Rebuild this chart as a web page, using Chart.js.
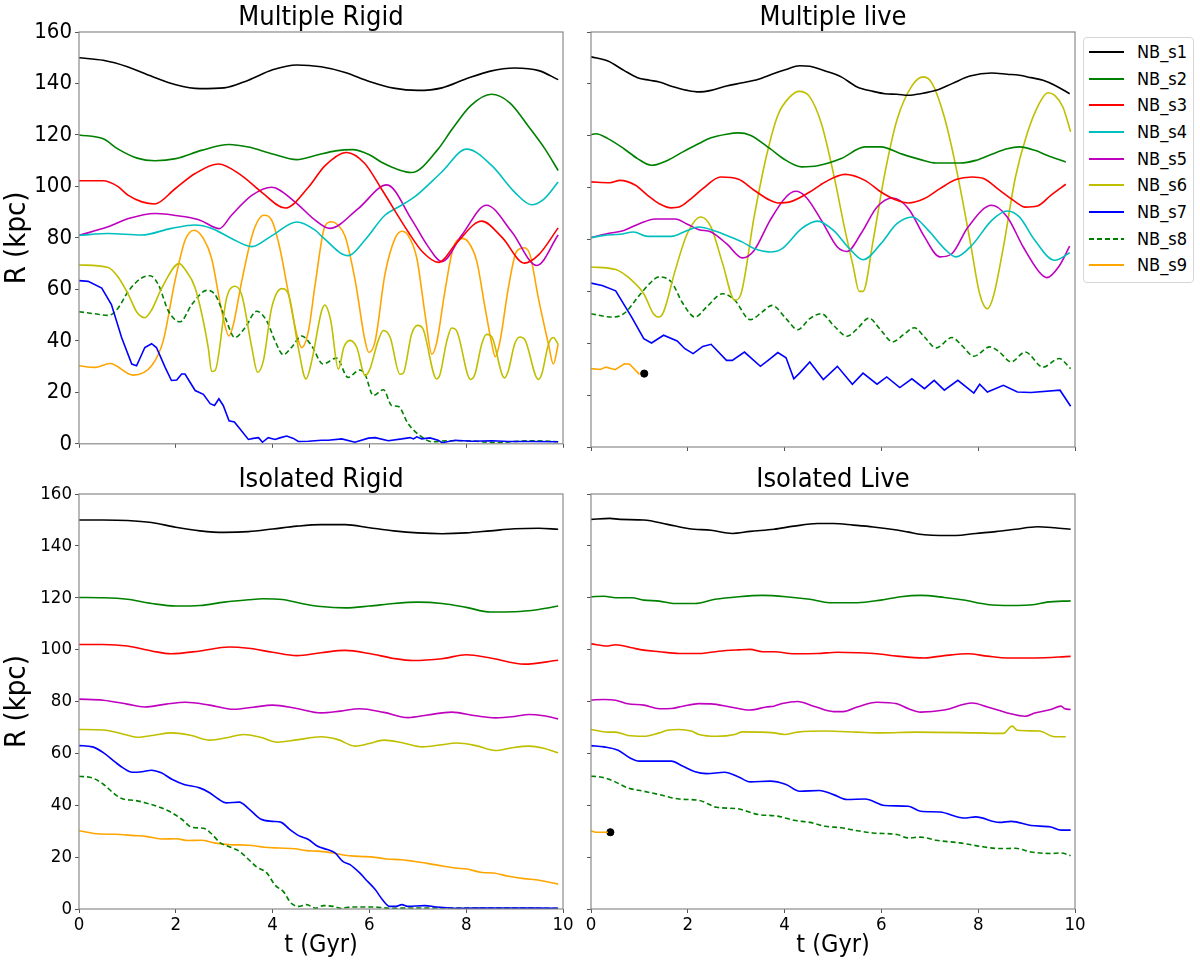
<!DOCTYPE html>
<html><head><meta charset="utf-8">
<script src="https://cdn.jsdelivr.net/npm/chart.js@4.4.1/dist/chart.umd.min.js"></script>
<style>
html,body{margin:0;padding:0;background:#fff;}
body{width:1200px;height:969px;position:relative;overflow:hidden;font-family:'DejaVu Sans Condensed','DejaVu Sans',sans-serif;}
canvas{position:absolute;}
#legend{position:absolute;left:1083px;top:37px;width:111px;height:246px;border:1px solid #d6d6d6;border-radius:4px;box-sizing:border-box;background:#fff;}
.item{position:absolute;left:0;width:110px;height:20px;}
.sw{position:absolute;left:5px;width:35px;top:9px;height:2px;}
.lb{position:absolute;left:53px;top:0;font-size:18px;line-height:20px;color:#000;white-space:nowrap;}
</style>
</head><body>
<div id="legend"></div>
<script>
// ---------- labels ----------
const seriesNames = ['NB_s1','NB_s2','NB_s3','NB_s4','NB_s5','NB_s6','NB_s7','NB_s8','NB_s9'];
const panelTitles = ['Multiple Rigid','Multiple live','Isolated Rigid','Isolated Live'];
const xTicks = [0,2,4,6,8,10];
const yTicks = [0,20,40,60,80,100,120,140,160];

// ---------- Multiple Rigid ----------
const mrS1 = [[0,150],[0.5,149],[1,146.5],[1.5,142.8],[2,139.5],[2.5,138],[3,138.3],[3.5,141.3],[4,145.3],[4.5,147.2],[5,146.5],[5.5,144.3],[6,140.8],[6.5,138.2],[7,137.3],[7.5,138.3],[8,141.8],[8.5,144.8],[9,146],[9.5,145],[9.9,141.5]];
const mrS2 = [[0,120],[0.5,118.5],[0.81,114.5],[1.2,111],[1.57,110],[2,110.8],[2.53,114],[3.1,116.3],[3.5,115.3],[4,112.6],[4.5,110.4],[4.88,112],[5.3,113.8],[5.65,114.3],[6,112.3],[6.25,109.4],[6.6,106.5],[6.87,105.4],[7.42,114.5],[7.7,122],[8.1,131.5],[8.52,135.8],[8.9,132.5],[9.3,123],[9.63,114.5],[9.9,106.2]];
const mrS3 = [[0,102.2],[0.5,102.2],[0.8,100],[1.02,96.5],[1.3,94],[1.57,93.2],[1.98,99],[2.4,105],[2.88,108.7],[3.36,104.2],[3.77,97.8],[4.26,91.6],[4.74,99.7],[5.08,108],[5.53,113.2],[5.9,109],[6.25,99],[6.8,82.4],[7.1,74.5],[7.43,70.5],[7.8,78],[8.32,86.5],[8.75,80],[9.2,70.2],[9.5,73.5],[9.9,83.9]];
const mrS4 = [[0,81],[0.61,81.7],[1.29,81.1],[1.91,83.7],[2.4,85],[2.74,83.7],[3.15,79.8],[3.57,76.6],[3.98,80.8],[4.5,86.2],[4.88,83],[5.05,80],[5.56,73.1],[5.9,79],[6.32,88.8],[6.6,92],[6.94,96],[7.49,105.5],[8.01,114.5],[8.53,108.1],[9.0,97.8],[9.35,92.9],[9.6,95],[9.9,101.7]];
const mrS5 = [[0,81],[0.6,84.3],[1.02,87.5],[1.57,89.5],[2.19,88.2],[2.5,86.9],[2.9,83.6],[3.15,88.8],[3.57,96.5],[3.98,99.7],[4.46,94],[4.88,86.9],[5.18,83.7],[5.77,91.4],[6.36,100.6],[6.88,86.9],[7.2,77],[7.5,70.8],[7.91,81.1],[8.42,92.7],[8.94,82.4],[9.46,69.3],[9.9,81.1]];
const mrS6 = [[0,69.5],[0.6,68.5],[0.8,65],[1.02,58],[1.2,51],[1.36,49],[1.5,52],[1.71,60.5],[2.07,70],[2.2,67.5],[2.4,60.5],[2.67,37.4],[2.74,28.1],[2.81,28.4],[3.05,56.7],[3.21,61.2],[3.36,58],[3.57,37.4],[3.69,27.8],[3.81,32.3],[3.98,52.8],[4.19,60.3],[4.33,58],[4.53,37.4],[4.69,25.2],[4.81,32.3],[5.01,51.5],[5.08,53.9],[5.2,48],[5.36,29],[5.47,37.4],[5.6,40.2],[5.74,37.4],[5.91,26.5],[6.01,29],[6.18,40],[6.29,44],[6.43,41.3],[6.63,27],[6.7,27.4],[6.87,42.5],[7.0,46],[7.11,44.5],[7.39,25.2],[7.46,27],[7.6,40],[7.7,45],[7.8,44],[8.09,25],[8.18,27],[8.32,38.7],[8.42,42.5],[8.53,41.5],[8.79,25.6],[8.87,28.4],[9.0,38.7],[9.11,41.5],[9.22,40.2],[9.49,25],[9.56,27],[9.7,38.7],[9.8,41.3],[9.9,38.7]];
const mrS7 = [[0,63.4],[0.19,63.1],[0.47,60.5],[0.67,54.1],[0.88,41.3],[1.09,31],[1.19,30.3],[1.36,37.4],[1.5,38.9],[1.6,37.4],[1.78,29.7],[1.91,24.6],[2.02,24.8],[2.12,27.1],[2.19,27.1],[2.4,20.7],[2.57,19.2],[2.71,15.6],[2.8,14.9],[2.89,17.5],[2.98,14.9],[3.1,8.9],[3.21,8.5],[3.29,6.6],[3.5,1.7],[3.6,2.1],[3.71,2.4],[3.79,0.6],[3.91,2.4],[4.05,1.7],[4.15,2.3],[4.29,3],[4.43,2.1],[4.53,0.9],[4.74,1],[5.01,1.4],[5.15,1.4],[5.43,1.9],[5.7,0.6],[5.98,2.2],[6.12,2.4],[6.39,1.2],[6.67,1.9],[6.84,2.4],[6.91,1.9],[6.98,2.7],[7.08,1.9],[7.25,2.3],[7.42,1.4],[7.5,0.4],[7.77,1.4],[8.12,1],[8.53,1.2],[8.87,0.9],[9.35,0.9],[9.9,0.8]];
const mrS8 = [[0,51.3],[0.33,50.5],[0.61,49.9],[0.81,52.8],[1.02,59.3],[1.29,64.4],[1.47,65.3],[1.64,61.8],[1.85,51.5],[2.09,47.4],[2.33,54.1],[2.64,59.6],[2.81,58],[3.02,49],[3.22,41.3],[3.43,45.1],[3.67,51.5],[3.88,47.7],[4.05,40],[4.22,34.6],[4.39,37.4],[4.6,41.9],[4.81,38],[5.04,31],[5.32,33.3],[5.56,25.8],[5.8,28.7],[5.91,27],[6.08,18.8],[6.29,21],[6.46,14.9],[6.6,14.5],[6.8,7.8],[7.08,2.7],[7.29,0.8],[7.63,1.2],[7.97,1.2],[8.32,0.8],[8.66,0.4],[9.0,0.9],[9.35,1.2],[9.9,0.8]];
const mrS9 = [[0,30.3],[0.33,29.7],[0.64,31.2],[1.12,26.7],[1.5,30.3],[1.74,40],[1.98,63],[2.19,79],[2.38,83],[2.57,79.8],[2.74,72],[2.95,51.5],[3.1,41.9],[3.19,46.4],[3.36,63],[3.6,82.4],[3.82,88.8],[3.98,86.9],[4.15,76],[4.32,59.3],[4.5,42.5],[4.6,37.4],[4.74,43.8],[4.88,62],[5.08,84.5],[5.22,86.3],[5.35,85],[5.5,80.5],[5.71,63],[5.91,40],[5.99,35.5],[6.12,40],[6.32,65.7],[6.53,79.8],[6.67,82.6],[6.8,81],[6.98,72.1],[7.15,50.3],[7.29,34.8],[7.39,39.3],[7.56,59.3],[7.73,76],[7.9,79.8],[8.04,78.5],[8.22,70.8],[8.39,52.8],[8.53,38.7],[8.6,33.8],[8.7,40],[8.87,60.5],[9.04,74.7],[9.2,76.2],[9.32,73.4],[9.49,56.7],[9.7,38.7],[9.8,31],[9.9,38.7]];

// ---------- Multiple live ----------
const mlS1 = [[0,150.4],[0.35,148.8],[0.68,145.2],[0.96,142.4],[1.21,141.4],[1.41,140.7],[1.66,139.1],[1.99,137.5],[2.23,136.9],[2.48,137.5],[2.8,139.2],[3.13,140.4],[3.46,141.8],[3.78,144],[4.03,145.5],[4.31,147],[4.52,146.8],[4.84,145],[5.17,142.7],[5.5,138.8],[5.83,137.1],[6.07,136.2],[6.32,136],[6.56,135.6],[6.81,136.2],[7.13,137.5],[7.46,140.1],[7.83,143],[8.28,144.2],[8.6,143.7],[8.85,143.3],[9.09,142.4],[9.34,141.4],[9.58,139.5],[9.89,136.2]];
const mlS2 = [[0,120.4],[0.1,120.8],[0.35,118.9],[0.68,115],[0.96,111.2],[1.25,108.6],[1.58,110.5],[1.9,113.8],[2.23,117],[2.48,119.2],[2.8,120.6],[3.05,121.1],[3.29,120.2],[3.7,115],[4.03,110.5],[4.35,108],[4.68,108.4],[5.17,111.2],[5.66,115.7],[5.99,115.7],[6.4,113.1],[6.81,110.8],[7.13,109.5],[7.62,109.5],[7.95,110.5],[8.28,112.9],[8.6,115],[8.85,115.7],[9.17,114.4],[9.42,112.5],[9.81,109.9]];
const mlS3 = [[0,102.2],[0.39,101.9],[0.6,102.8],[0.92,100.9],[1.17,97],[1.41,93.8],[1.66,92.2],[1.82,92.5],[2.07,95.8],[2.31,99.6],[2.68,104.1],[3.05,103.2],[3.37,99],[3.7,95.1],[3.86,94.1],[4.11,94.5],[4.52,98.3],[4.84,102.2],[5.25,105.1],[5.66,102.8],[5.99,98.3],[6.32,95.1],[6.56,94.1],[6.89,95.8],[7.21,99.6],[7.54,103.1],[7.87,104.1],[8.11,103.5],[8.44,99],[8.77,94.5],[8.97,92.5],[9.22,92.9],[9.5,97],[9.81,101.3]];
const mlS4 = [[0,80.7],[0.27,81.6],[0.6,82],[0.88,82.9],[1.17,81.2],[1.66,81.2],[1.99,83.5],[2.23,84.8],[2.56,83.3],[2.88,81],[3.13,79],[3.37,76.5],[3.7,75.2],[3.95,76.5],[4.35,84.2],[4.68,87.1],[5.01,83.5],[5.34,76.5],[5.62,72.2],[5.99,78.4],[6.32,86.1],[6.64,88.7],[6.97,83.5],[7.3,76.5],[7.54,73.3],[7.87,77.8],[8.28,87.4],[8.6,91],[8.85,88.7],[9.17,79.7],[9.58,72],[9.89,74.9]];
const mlS5 = [[0,80.7],[0.35,82.3],[0.68,83.5],[1.0,86.1],[1.33,87.9],[1.74,87.9],[1.99,85.9],[2.23,83.8],[2.48,82.9],[2.8,78.4],[3.13,72.9],[3.37,75.8],[3.7,87.4],[4.03,96.4],[4.23,98.6],[4.44,96.4],[4.76,87.4],[5.09,77.1],[5.29,75.4],[5.58,82.3],[5.91,92.5],[6.23,96],[6.56,91.9],[6.89,81],[7.21,73.3],[7.46,74.6],[7.79,84.8],[8.28,93.2],[8.6,88.7],[8.93,77.1],[9.26,67.5],[9.42,65.3],[9.66,69.4],[9.89,77.4]];
const mlS6 = [[0,69.4],[0.51,68.4],[0.84,64.3],[1.09,59.1],[1.29,51.4],[1.4,50.1],[1.5,52.1],[1.74,68.1],[1.99,82.3],[2.27,88.7],[2.48,84.8],[2.72,70.7],[2.97,56.6],[3.09,58.5],[3.37,88.7],[3.62,111.8],[3.86,127.9],[4.11,135],[4.3,137.1],[4.52,135],[4.76,124.7],[5.01,105.4],[5.25,83.5],[5.42,69.4],[5.54,60],[5.62,60],[5.83,79.7],[6.07,105.4],[6.32,126],[6.64,139.5],[6.87,142.7],[7.05,140.1],[7.3,127.2],[7.54,108],[7.83,79.7],[8.03,59.1],[8.19,53.3],[8.32,58.5],[8.52,77.1],[8.77,104.1],[9.01,120.8],[9.26,132.4],[9.44,136.6],[9.58,135.6],[9.75,131.1],[9.91,121.5]];
const mlS7 = [[0,63.2],[0.23,62.3],[0.51,60.2],[0.84,50.1],[1.09,41.8],[1.25,40.1],[1.5,43.1],[1.78,40.9],[1.94,37.9],[2.11,36],[2.31,38.8],[2.48,39.6],[2.8,33.4],[2.92,33.4],[3.17,36.6],[3.5,31.1],[3.66,33.4],[3.86,36.4],[4.03,34.4],[4.19,26.3],[4.31,28.5],[4.52,32.8],[4.8,26],[5.09,31.1],[5.4,24.2],[5.62,28.5],[5.91,24.2],[6.11,27],[6.38,22.9],[6.63,26.3],[6.89,22.5],[7.09,25.7],[7.3,21.9],[7.58,25.7],[7.91,20.8],[8.03,24.2],[8.19,21.2],[8.52,23.8],[8.81,21.2],[9.09,21],[9.69,21.9],[9.91,15.7]];
const mlS8 = [[0,51.4],[0.43,50.1],[0.68,51.4],[1.0,58.5],[1.21,63],[1.41,65.6],[1.66,63.6],[1.9,55.3],[2.15,50.1],[2.39,54],[2.72,59.1],[2.97,56.6],[3.29,49.1],[3.54,52.1],[3.74,54.6],[4.03,49.5],[4.27,45.2],[4.52,49.5],[4.76,51.4],[5.01,46.9],[5.29,42.7],[5.5,45.6],[5.74,49.7],[5.99,45],[6.23,40.5],[6.48,43.7],[6.68,46],[6.89,42.4],[7.13,38.2],[7.46,42.2],[7.66,39.2],[7.91,35],[8.24,38.6],[8.44,36.6],[8.68,32.8],[8.97,36.6],[9.34,30.8],[9.67,34.1],[9.91,30.2]];
const mlS9 = [[0,30.2],[0.19,29.9],[0.31,30.8],[0.5,29.8],[0.69,32.1],[0.8,31.9],[1.0,28]];
const mlDot = [[1.1,28.3]];

// ---------- Isolated Rigid ----------
const irS1 = [[0,150],[0.5,150],[1,149.8],[1.5,149],[2,147.2],[2.5,145.8],[3,145.2],[3.5,145.5],[4,146.5],[4.5,147.6],[5,148.2],[5.5,148.2],[6,147],[6.5,145.8],[7,145],[7.5,144.7],[8,145],[8.5,145.8],[9,146.6],[9.5,146.8],[9.9,146.4]];
const irS2 = [[0,120.1],[0.5,120],[1,119.4],[1.5,117.8],[2,116.8],[2.5,117],[3,118.3],[3.5,119.2],[3.8,119.6],[4.2,119.3],[4.6,117.8],[5,116.6],[5.5,116.1],[6,116.8],[6.5,117.8],[7,118.3],[7.5,117.8],[8,116.3],[8.5,114.5],[9,114.6],[9.5,115.5],[9.9,116.8]];
const irS3 = [[0,102],[0.5,102],[1,101.4],[1.5,99.5],[1.9,98.4],[2.5,99.5],[3.1,101],[3.5,100.5],[4,99],[4.5,97.7],[5,98.8],[5.5,99.7],[6,98.5],[6.5,96.6],[6.9,95.8],[7.5,96.5],[8,98],[8.5,96.8],[9.2,94.4],[9.9,95.9]];
const irS5 = [[0,80.9],[0.5,80.5],[1,79],[1.35,77.9],[1.8,79],[2.2,79.7],[2.7,78.6],[3.2,77],[3.6,77.8],[4,78.6],[4.5,77.3],[5,75.6],[5.4,76.3],[5.8,77.2],[6.3,75.8],[6.8,73.8],[7.2,74.8],[7.7,75.9],[8.2,74.5],[8.6,73.7],[9,74.2],[9.3,75],[9.6,74.5],[9.9,73.3]];
const irS6 = [[0,69.2],[0.5,69],[0.9,67.5],[1.2,66.2],[1.55,67],[1.9,67.9],[2.3,67],[2.7,65.1],[3.05,66],[3.4,67.3],[3.75,66.2],[4.1,64.3],[4.5,65.2],[5,66.4],[5.35,65.3],[5.7,62.8],[6,63.8],[6.3,65.1],[6.7,64],[7.1,62.5],[7.45,63.2],[7.8,64],[8.2,63],[8.6,61.1],[8.95,62.2],[9.3,62.8],[9.6,62],[9.9,60.2]];
const irS7 = [[0,63],[0.28,62.5],[0.51,60.2],[0.75,56.6],[0.91,54.4],[1.1,52.7],[1.3,52.9],[1.5,53.5],[1.7,52.5],[1.93,49.9],[2.17,48],[2.49,46.7],[2.68,45],[2.88,42.4],[3.04,40.9],[3.31,41.2],[3.51,38.6],[3.75,34.7],[3.99,33.8],[4.18,33.4],[4.34,30.9],[4.54,28.3],[4.74,26.8],[4.93,24.2],[5.13,22.9],[5.29,21.6],[5.45,18.4],[5.6,17.1],[5.8,13.9],[5.96,10.7],[6.12,7.5],[6.27,3.6],[6.42,1],[6.55,1],[6.67,1.7],[6.79,1],[7.14,1.3],[7.38,0.8],[7.85,0.3],[8.64,0.4],[9.9,0.3]];
const irS8 = [[0,51.2],[0.28,50.5],[0.51,48],[0.75,44.1],[0.91,42.4],[1.14,41.9],[1.38,40.9],[1.7,39],[1.93,37],[2.13,34.5],[2.33,31.5],[2.57,31.1],[2.72,29.3],[2.92,25.5],[3.12,23.9],[3.31,22.3],[3.51,19],[3.67,16.2],[3.87,14.1],[4.06,9],[4.22,6.8],[4.38,2.3],[4.54,1],[4.7,1.7],[4.89,0.3],[5.05,1.3],[5.25,1],[5.41,0.3],[5.64,0.8],[6.04,0.8],[6.43,0.3],[7.06,0.4],[9.9,0.3]];
const irS9 = [[0,30.2],[0.43,28.9],[0.75,28.8],[1.14,28.3],[1.38,28],[1.7,27],[2.01,27.1],[2.25,26.4],[2.53,26.5],[2.8,25.5],[3.12,24.8],[3.51,24.6],[3.83,23.8],[4.14,23.5],[4.46,23.2],[4.7,22.5],[4.93,22.3],[5.25,21.6],[5.49,20.7],[5.8,20.3],[6.12,19.9],[6.35,19.3],[6.67,19],[6.91,18.4],[7.22,17.5],[7.54,16.5],[7.77,15.8],[8.01,15.4],[8.33,14.1],[8.56,13.9],[8.88,12.6],[9.19,11.7],[9.51,11.1],[9.9,9.6]];

// ---------- Isolated Live ----------
const ilS1 = [[0,150.2],[0.39,150.6],[0.6,150.2],[1.09,150],[1.58,148.3],[2.03,146.6],[2.48,146],[2.92,144.8],[3.29,145.6],[3.78,146.4],[4.19,147.6],[4.68,148.6],[5.01,148.6],[5.42,148],[5.83,147.3],[6.32,146.1],[6.56,145.3],[6.89,144.3],[7.21,144],[7.54,144],[7.95,144.8],[8.36,145.5],[8.77,146.4],[9.22,147.4],[9.58,147],[9.91,146.4]];
const ilS2 = [[0,120.4],[0.27,120.6],[0.51,120],[0.84,120],[1.09,119.1],[1.41,118.7],[1.74,117.8],[2.15,117.8],[2.56,119.4],[3.05,120.4],[3.54,120.9],[4.03,120.4],[4.52,119.4],[4.93,118.1],[5.5,118.1],[5.99,119.1],[6.4,120.4],[6.81,120.9],[7.3,120.1],[7.7,119.1],[8.19,117.4],[8.68,117],[9.17,117.4],[9.42,118.3],[9.91,118.8]];
const ilS3 = [[0,102.2],[0.35,101.4],[0.51,101.9],[0.84,100.7],[1.09,99.8],[1.41,99.2],[1.82,98.5],[2.23,98.5],[2.64,99.4],[3.05,99.9],[3.29,100.1],[3.54,99.2],[3.78,99.2],[4.19,98.4],[4.68,98.5],[5.09,99],[5.5,98.8],[5.91,98.4],[6.32,97.5],[6.89,96.8],[7.3,97.7],[7.79,98.4],[8.19,97.5],[8.6,96.8],[9.17,96.8],[9.91,97.4]];
const ilS5 = [[0,80.6],[0.27,80.8],[0.51,80.5],[0.76,79.1],[1.09,78.6],[1.41,77.2],[1.66,77.3],[1.9,78.2],[2.23,79.2],[2.48,79.1],[2.88,77.9],[3.29,76.7],[3.62,77.9],[3.78,78.2],[3.95,79.2],[4.27,80],[4.6,78.2],[5.01,76.1],[5.21,76.1],[5.5,77.9],[5.91,79.7],[6.32,79.1],[6.56,77.2],[6.81,75.9],[7.3,76.7],[7.87,79.4],[8.19,77.9],[8.6,75.6],[8.97,74.3],[9.17,75.6],[9.5,76.9],[9.71,78.2],[9.79,77.2],[9.91,76.9]];
const ilS6 = [[0,69.2],[0.35,68.2],[0.51,68.2],[0.76,66.9],[1.09,66.6],[1.41,67.9],[1.58,68.9],[1.82,69.2],[2.07,68.6],[2.23,67.3],[2.6,66.6],[2.97,67.3],[3.13,68.3],[3.78,67.9],[3.99,67.3],[4.27,68.2],[4.84,68.6],[5.5,68.2],[5.99,67.9],[6.72,68.2],[7.95,67.9],[8.52,67.7],[8.7,70.5],[8.81,68.9],[9.26,68.6],[9.58,66.4],[9.81,66.4]];
const ilS7 = [[0,63],[0.27,62.5],[0.56,61.2],[0.8,58.3],[1.0,57],[1.33,57],[1.66,57],[1.9,55],[2.15,52.9],[2.39,52.2],[2.76,52.7],[3.05,50.9],[3.29,49],[3.7,49.3],[4.03,48],[4.31,45.4],[4.72,45.7],[5.01,44.1],[5.29,42.2],[5.66,42.4],[6.07,39.9],[6.56,39.6],[6.81,37.7],[7.21,37.4],[7.7,35.1],[7.95,35.5],[8.44,33.4],[8.68,33.8],[9.09,32.2],[9.5,31.6],[9.71,30.4],[9.91,30.4]];
const ilS8 = [[0,51.2],[0.19,50.9],[0.43,49.6],[0.76,46.7],[1.09,45.4],[1.41,44.1],[1.82,42.4],[2.23,41.9],[2.6,39.2],[3.01,38.7],[3.46,36.4],[3.86,35.8],[4.19,34.2],[4.52,33.4],[4.84,31.9],[5.17,31.3],[5.5,30.2],[5.83,29.3],[6.32,28.7],[6.56,27.4],[6.81,27.7],[7.13,26.5],[7.62,25.5],[8.03,24.2],[8.44,23.3],[8.77,23.4],[9.09,22],[9.5,21.4],[9.71,21.6],[9.91,20.6]];
const ilS9 = [[0,30.2],[0.1,29.6],[0.35,29.6]];
const ilDot = [[0.4,29.6]];

// ---------- styling ----------
const seriesColors = ['#000000','#008000','#ff0000','#00bfbf','#bf00bf','#bfbf00','#0000ff','#008000','#ffa500'];
const FONT = "'DejaVu Sans Condensed', 'DejaVu Sans', sans-serif";

// legend (HTML)
const leg = document.getElementById('legend');
seriesNames.forEach((n,i)=>{
  const it = document.createElement('div'); it.className='item'; it.style.top = Math.round(4 + i*26.67)+'px';
  const sw = document.createElement('div'); sw.className='sw';
  sw.style.background = i===7
    ? 'repeating-linear-gradient(to right,'+seriesColors[i]+' 0 5px, transparent 5px 8px)'
    : seriesColors[i];
  const lb = document.createElement('div'); lb.className='lb'; lb.textContent = n;
  it.appendChild(sw); it.appendChild(lb); leg.appendChild(it);
});

const framePlugin = {id:'frame', afterDraw(chart){
  const {ctx, chartArea:a} = chart; ctx.save();
  ctx.strokeStyle='#8a8a8a'; ctx.lineWidth=1.2;
  ctx.strokeRect(a.left, a.top, a.right-a.left, a.bottom-a.top); ctx.restore();
}};

function makePanel(p){
  const c = document.createElement('canvas');
  c.width = p.w; c.height = p.h;
  c.style.left = p.left+'px'; c.style.top = p.top+'px';
  c.style.width = p.w+'px'; c.style.height = p.h+'px';
  document.body.appendChild(c);
  const datasets = [];
  p.series.forEach((d,i)=>{
    if(!d) return;
    datasets.push({label:seriesNames[i], data:d.map(q=>({x:q[0],y:q[1]})), borderColor:seriesColors[i],
      backgroundColor:seriesColors[i], borderWidth:1.6, borderDash: i===7?[5,3]:[], pointRadius:0, fill:false,
      cubicInterpolationMode: (p.linear||[]).includes(i)?'default':'monotone', tension:0});
  });
  if(p.dot){
    datasets.push({label:'end', data:p.dot.map(q=>({x:q[0],y:q[1]})), showLine:false, pointRadius:3.6,
      pointBackgroundColor:'#000', pointBorderColor:'#000', borderColor:'#000'});
  }
  new Chart(c, {type:'line', data:{datasets},
    options:{responsive:false, animation:false, events:[],
      layout:{padding:{left:0,right:p.padRight,top:0,bottom:0}},
      plugins:{legend:{display:false}, tooltip:{enabled:false},
        title:{display:true, text:p.title, color:'#000', fullSize:false,
          font:{family:FONT, size:27, weight:'normal', lineHeight:'29px'}, padding:{top:3,bottom:0}}},
      scales:{
        x:{type:'linear', min:0, max:10,
          afterFit:s=>{s.height=p.xHeight;},
          afterBuildTicks:s=>{s.ticks = xTicks.map(v=>({value:v}));},
          ticks:{display:p.xLabels, maxRotation:0, autoSkip:false, color:'#000', padding:1, font:{family:FONT,size:18.5}},
          grid:{drawOnChartArea:false, drawTicks:true, tickLength:4, color:'#555'},
          border:{display:false},
          title:{display:!!p.xTitle, text:'t (Gyr)', color:'#000', font:{family:FONT,size:25}, padding:{top:0,bottom:9}}},
        y:{type:'linear', min:0, max:160,
          afterFit:s=>{s.width=p.yWidth;},
          afterBuildTicks:s=>{s.ticks = yTicks.map(v=>({value:v}));},
          ticks:{display:p.yLabels, color:'#000', padding:3, font:{family:FONT,size:p.yFont}},
          grid:{drawOnChartArea:false, drawTicks:true, tickLength:4, color:'#555'},
          border:{display:false},
          title:{display:!!p.yTitle, text:'R (kpc)', color:'#000', font:{family:FONT,size:29}, padding:{top:0,bottom:0}}}
      }},
    plugins:[framePlugin]});
}

makePanel({left:0, top:0, w:578, h:460, padRight:15, yWidth:79, xHeight:13, title:panelTitles[0],
  series:[mrS1,mrS2,mrS3,mrS4,mrS5,mrS6,mrS7,mrS8,mrS9], linear:[6], xLabels:false, yLabels:true, yFont:22, yTitle:true});
makePanel({left:579, top:0, w:501, h:460, padRight:5, yWidth:12, xHeight:13, title:panelTitles[1],
  series:[mlS1,mlS2,mlS3,mlS4,mlS5,mlS6,mlS7,mlS8,mlS9], linear:[6,8], dot:mlDot, xLabels:false, yLabels:false, yFont:18});
makePanel({left:0, top:462, w:578, h:507, padRight:15, yWidth:79, xHeight:60, title:panelTitles[2],
  series:[irS1,irS2,irS3,null,irS5,irS6,irS7,irS8,irS9], linear:[], xLabels:true, yLabels:true, yFont:18.5, yTitle:true, xTitle:true});
makePanel({left:579, top:462, w:516, h:507, padRight:20, yWidth:12, xHeight:60, title:panelTitles[3],
  series:[ilS1,ilS2,ilS3,null,ilS5,ilS6,ilS7,ilS8,ilS9], linear:[], dot:ilDot, xLabels:true, yLabels:false, yFont:18, xTitle:true});
</script>
</body></html>
